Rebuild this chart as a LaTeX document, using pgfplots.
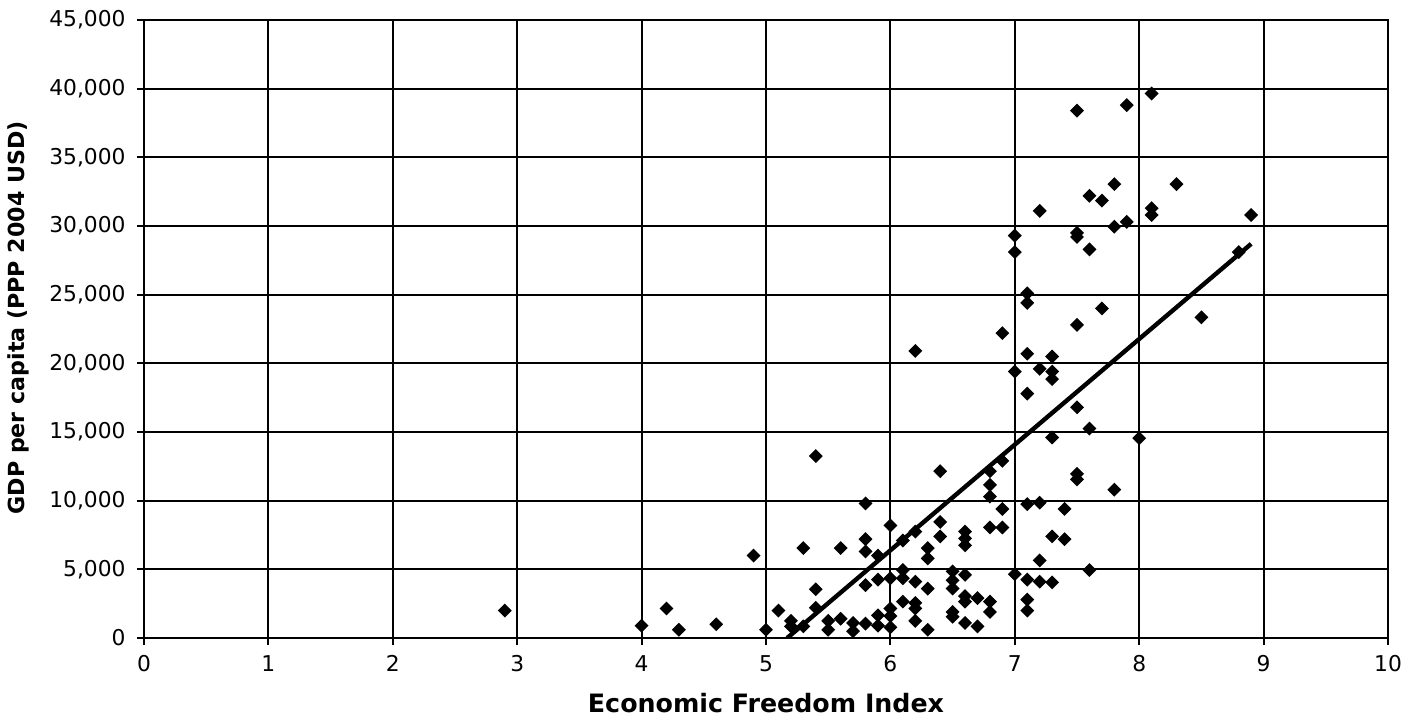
\documentclass[border=0pt]{standalone}
\usepackage{fontspec}
\setmainfont{DejaVu Sans}
\usepackage{pgfplots}
\pgfplotsset{compat=1.18}
\pgfplotstableread{
x y
2.9 2000
4.0 900
4.2 2150
4.3 600
4.6 1000
4.9 6000
5.0 600
5.1 2000
5.2 1250
5.2 850
5.3 6550
5.3 850
5.4 13250
5.4 3550
5.4 2200
5.5 1250
5.5 600
5.6 6550
5.6 1400
5.7 1100
5.7 500
5.8 9800
5.8 7200
5.8 6300
5.8 3850
5.8 1050
5.9 6000
5.9 4250
5.9 1650
5.9 900
6.0 8200
6.0 4350
6.0 2150
6.0 1600
6.0 780
6.1 7100
6.1 4950
6.1 4350
6.1 2650
6.2 20900
6.2 7750
6.2 4100
6.2 2550
6.2 2150
6.2 1250
6.3 6550
6.3 5800
6.3 3600
6.3 600
6.4 12150
6.4 8450
6.4 7400
6.5 4850
6.5 4200
6.5 3600
6.5 1900
6.5 1550
6.6 7750
6.6 7250
6.6 6750
6.6 4600
6.6 3050
6.6 2650
6.6 1100
6.7 2900
6.7 850
6.8 12150
6.8 11150
6.8 10300
6.8 8050
6.8 2650
6.8 1900
6.9 22200
6.9 12900
6.9 9400
6.9 8050
7.0 29300
7.0 28100
7.0 19400
7.0 4650
7.1 25100
7.1 24400
7.1 20700
7.1 17800
7.1 9750
7.1 4250
7.1 2800
7.1 2000
7.2 31100
7.2 19600
7.2 9850
7.2 5650
7.2 4100
7.3 20500
7.3 19400
7.3 18850
7.3 14600
7.3 7400
7.3 4050
7.4 9400
7.4 7200
7.5 38400
7.5 29500
7.5 29200
7.5 22800
7.5 16800
7.5 11950
7.5 11550
7.6 32200
7.6 28300
7.6 15250
7.6 4950
7.7 31850
7.7 24000
7.8 33050
7.8 29950
7.8 10800
7.9 38800
7.9 30300
8.0 14550
8.1 39650
8.1 31300
8.1 30800
8.3 33050
8.5 23350
8.8 28100
8.9 30800
}\gdpdata
\begin{document}
\begin{tikzpicture}
\path[use as bounding box] (0,0) rectangle (14.18cm,7.15cm);
\begin{axis}[
  at={(1.44cm,0.77cm)}, anchor=south west,
  scale only axis, width=12.44cm, height=6.18cm,
  xmin=0, xmax=10, ymin=0, ymax=45000,
  xtick={0,1,...,10}, ytick={0,5000,...,45000},
  xtick pos=bottom, ytick pos=left,
  grid=major, major grid style={black, line width=0.55pt},
  axis line style={black, line width=0.6pt},
  tick style={black, line width=0.6pt},
  tick align=outside, major tick length=0.07cm,
  scaled y ticks=false,
  /pgf/number format/1000 sep={,},
  /pgf/number format/assume math mode=true,
  ticklabel style={font=\fontsize{6.2}{7}\selectfont, text=black},
  xticklabel style={yshift=0.02cm},
  yticklabel style={xshift=0.01cm},
  xlabel={\textbf{Economic Freedom Index}},
  ylabel={\textbf{GDP per capita (PPP 2004 USD)}},
  every axis x label/.style={at={(axis description cs:0.5,-0.105)}, anchor=center, font=\fontsize{7.2}{8}\selectfont},
  every axis y label/.style={at={(axis description cs:-0.1013,0.518)}, anchor=center, rotate=90, font=\fontsize{6.3}{7}\selectfont},
  clip=true,
]
\addplot[only marks, mark=square*, mark size=1.2pt, mark options={rotate=45, fill=black, draw=black}] table[x=x,y=y] {\gdpdata};
\addplot[black, line width=1.25pt] coordinates {(5.17,0) (8.9,28700)};
\end{axis}
\end{tikzpicture}
\end{document}
